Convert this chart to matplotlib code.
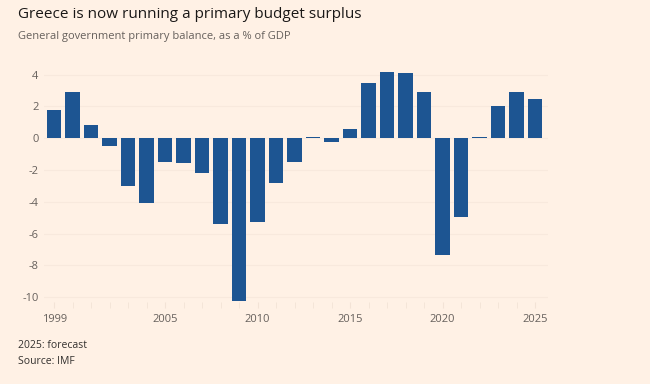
import matplotlib
matplotlib.use("Agg")
import matplotlib.pyplot as plt
import numpy as np

years = list(range(1999, 2026))
balance = [1.8, 2.9, 0.8, -0.5, -3.0, -4.1, -1.5, -1.55, -2.2, -5.4,
           -10.25, -5.3, -2.8, -1.5, 0.1, -0.25, 0.55, 3.45, 4.15, 4.1,
           2.9, -7.35, -4.95, 0.06, 2.05, 2.9, 2.45]
yticks = [4, 2, 0, -2, -4, -6, -8, -10]
xticks = [1999, 2005, 2010, 2015, 2020, 2025]

title = "Greece is now running a primary budget surplus"
subtitle = "General government primary balance, as a % of GDP"
notes = ["2025: forecast", "Source: IMF"]

bg = "#fff1e5"
bar_color = "#1d5592"

plt.rcParams["font.family"] = ["Open Sans", "DejaVu Sans"]

fig = plt.figure(figsize=(6.5, 3.84), dpi=100, facecolor=bg)
ax = fig.add_axes([44 / 650, 1 - 302 / 384, (548 - 44) / 650, (302 - 65) / 384])
ax.set_facecolor(bg)

ax.bar(years, balance, width=0.79, color=bar_color, zorder=3)

ax.set_xlim(1998.45, 2025.7)
ax.set_ylim(-10.3, 4.6)
ax.set_yticks(yticks)
ax.set_yticklabels([str(v) for v in yticks])
ax.set_xticks(xticks)
ax.set_xticks(years, minor=True)
ax.grid(axis="y", color="#f8e9dd", linewidth=0.8, zorder=0)

for s in ax.spines.values():
    s.set_visible(False)
ax.tick_params(axis="y", length=0, labelsize=8, labelcolor="#66605c", pad=4)
ax.tick_params(axis="x", which="both", length=4, color="#f3e3d6",
               labelsize=8, labelcolor="#66605c", pad=5)

fig.text(18 / 650, 1 - 14 / 384, title, fontsize=11, color="#1a1817", va="center")
fig.text(18 / 650, 1 - 37 / 384, subtitle, fontsize=8, color="#66605c", va="center")
fig.text(18 / 650, 1 - 346 / 384, notes[0], fontsize=7.5, color="#33302e", va="center")
fig.text(18 / 650, 1 - 362 / 384, notes[1], fontsize=7.5, color="#33302e", va="center")

fig.savefig("out.png", dpi=100, facecolor=bg)
